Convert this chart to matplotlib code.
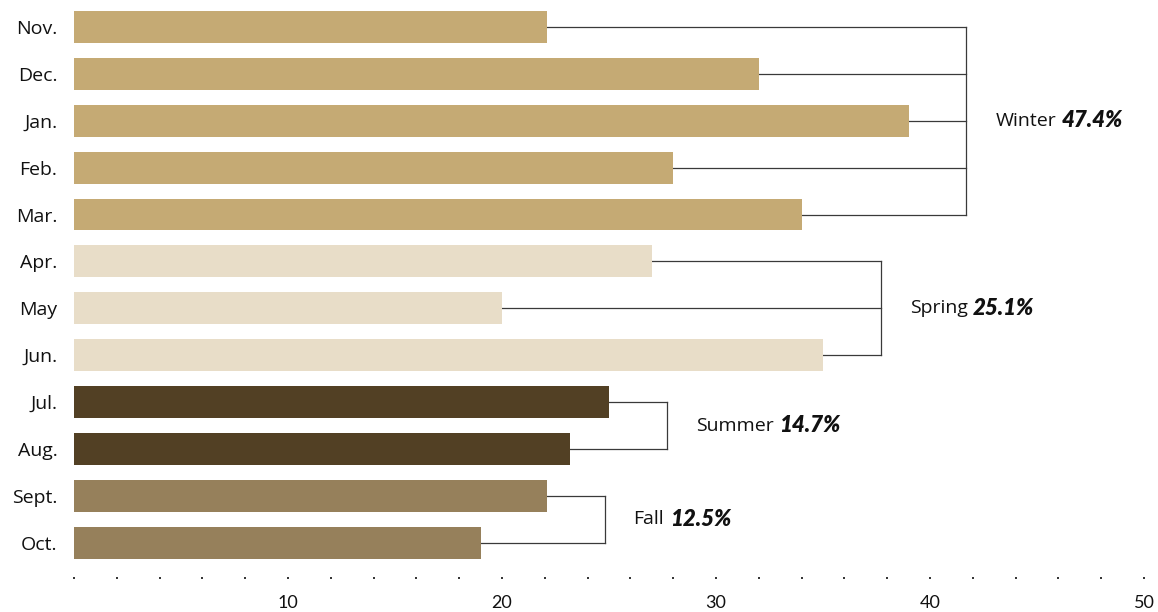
import matplotlib
matplotlib.use('Agg')
import matplotlib.pyplot as plt
from matplotlib.transforms import offset_copy

# monthly values
months = ["Nov.", "Dec.", "Jan.", "Feb.", "Mar.", "Apr.", "May", "Jun.",
          "Jul.", "Aug.", "Sept.", "Oct."]
values = [22.1, 32, 39, 28, 34, 27, 20, 35, 25, 23.2, 22.1, 19]

seasons = ["Winter", "Spring", "Summer", "Fall"]
season_pct = ["47.4%", "25.1%", "14.7%", "12.5%"]
season_rows = [(0, 4), (5, 7), (8, 9), (10, 11)]
season_colors = ["#c5aa74", "#e8ddc8", "#524024", "#96805b"]

fig = plt.figure(figsize=(11.58, 6.12), dpi=100)
ax = fig.add_axes([0.0639, 0.0556, 0.924, 0.9425])

bar_colors = []
for (a, b), c in zip(season_rows, season_colors):
	bar_colors += [c] * (b - a + 1)

rows = list(range(len(months)))
ax.barh(rows, values, height=0.68, color=bar_colors, zorder=2)

ax.set_xlim(0, 50)
ax.set_ylim(11.75, -0.55)

line_col = '#3a3a3a'
fig.canvas.draw()
rend = fig.canvas.get_renderer()
for name, pct, (a, b) in zip(seasons, season_pct, season_rows):
	bx = max(values[a:b + 1]) + 2.7
	for r in range(a, b + 1):
		ax.plot([values[r], bx], [r, r], color=line_col, linewidth=0.9, zorder=1)
	ax.plot([bx, bx], [a, b], color=line_col, linewidth=0.9, zorder=1)
	ymid = (a + b) / 2
	t = ax.text(bx + 1.35, ymid, name, fontsize=14, family='Open Sans',
				va='center', ha='left', color='#111111')
	w = t.get_window_extent(renderer=rend).width * 72 / fig.dpi
	tr = offset_copy(ax.transData, fig=fig, x=w + 4, y=0, units='points')
	ax.text(bx + 1.35, ymid, pct, fontsize=16, family='Lato', fontweight='heavy',
			style='italic', va='center', ha='left', color='#111111', transform=tr)

ax.set_yticks(rows)
ax.set_yticklabels(months, fontsize=14, family='Open Sans', color='#111111')
ax.tick_params(axis='y', length=0, pad=12)

ticks = list(range(0, 51, 2))
ax.set_xticks(ticks)
ax.set_xticklabels([str(t) if t % 10 == 0 and t > 0 else "" for t in ticks],
				   fontsize=13, family='Lato', color='#111111')
ax.tick_params(axis='x', length=2, width=1.3, direction='inout', color='#222222', pad=11)

for s in ax.spines.values():
	s.set_visible(False)

plt.savefig("out.png", dpi=100)
